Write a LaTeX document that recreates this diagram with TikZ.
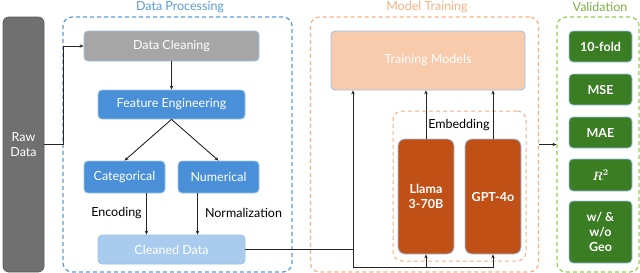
\documentclass[tikz,border=0pt]{standalone}
\usepackage{fontspec}
\setmainfont{Lato}
\usetikzlibrary{arrows.meta,positioning}
\definecolor{rawgray}{RGB}{112,112,112}
\definecolor{cleangray}{RGB}{166,166,166}
\definecolor{featblue}{RGB}{74,144,217}
\definecolor{paleblue}{RGB}{169,204,238}
\definecolor{edgeblue}{RGB}{157,195,230}
\definecolor{peach}{RGB}{248,203,173}
\definecolor{rust}{RGB}{192,80,21}
\definecolor{leaf}{RGB}{58,125,34}
\definecolor{dpblue}{RGB}{91,155,213}
\definecolor{mtorange}{RGB}{244,177,131}
\definecolor{vgreen}{RGB}{146,208,80}
\tikzset{
  box/.style ={rectangle,draw=edgeblue,line width=0.8pt,rounded corners=4pt,align=center,
               text=white,inner sep=1pt,font=\fontsize{12.5}{15}\selectfont},
  grp/.style ={rectangle,line width=1.2pt,dash pattern=on 4pt off 3pt,rounded corners=9pt,inner sep=0pt},
  ttl/.style ={font=\fontsize{12.5}{15}\selectfont},
  lbl/.style ={font=\fontsize{12.5}{15}\selectfont},
  vb/.style  ={box,fill=leaf,minimum width=63pt,font=\fontsize{12.5}{15}\selectfont\bfseries\boldmath},
  ar/.style  ={-{Stealth[length=4pt,width=3.5pt]},line width=0.9pt,black!85},
  ln/.style  ={line width=0.9pt,black!85},
}
\begin{document}
\begin{tikzpicture}[x=1pt,y=-1pt]
  \useasboundingbox (0,0) rectangle (640,273);
  % group frames
  \node[grp,draw=dpblue,minimum width=229pt,minimum height=255pt]  (dp)  at (177.5,144.5) {};
  \node[grp,draw=mtorange,minimum width=228pt,minimum height=255pt] (mt) at (424.5,144.5) {};
  \node[grp,draw=vgreen,minimum width=82pt,minimum height=255pt]  (val) at (598,144.5) {};
  \node[ttl,text=dpblue]   (dpt)  at (180,7)  {Data Processing};
  \node[ttl,text=mtorange] (mtt)  at (427,7)  {Model Training};
  \node[ttl,text=vgreen!85!black] (valt) at (600,7) {Validation};
  % raw data
  \node[box,draw=rawgray!80!black,fill=rawgray,rounded corners=6pt,minimum width=41pt,minimum height=255pt] (raw) at (23.5,144.5) {Raw\\Data};
  % data processing
  \node[box,fill=cleangray,minimum width=175pt,minimum height=30pt] (clean) at (171.5,46) {Data Cleaning};
  \node[box,fill=featblue,minimum width=147pt,minimum height=29pt]  (feat)  at (171.5,104.5) {Feature Engineering};
  \node[box,fill=featblue,minimum width=81pt,minimum height=32pt]   (cat)   at (124.5,177) {Categorical};
  \node[box,fill=featblue,minimum width=81pt,minimum height=32pt]   (num)   at (218.5,177) {Numerical};
  \node[box,fill=paleblue,minimum width=147pt,minimum height=29pt]  (cleaned) at (171.5,249.5) {Cleaned Data};
  \node[lbl] (enc)  at (116.5,213) {Encoding};
  \node[lbl] (norm) at (243.5,213) {Normalization};
  % model training
  \node[box,fill=peach,minimum width=194pt,minimum height=59pt] (train) at (428,60.5) {Training Models};
  \node[grp,draw=mtorange,line width=1pt,minimum width=133pt,minimum height=150pt] (emb) at (459.5,186) {};
  \node[lbl] (embt) at (459,125) {Embedding};
  \node[box,fill=rust,rounded corners=7pt,minimum width=56pt,minimum height=115pt,font=\fontsize{12.5}{15}\selectfont\bfseries] (llama) at (426,196.5) {Llama\\3-70B};
  \node[box,fill=rust,rounded corners=7pt,minimum width=56pt,minimum height=115pt,font=\fontsize{12.5}{15}\selectfont\bfseries] (gpt)   at (493,196.5) {GPT-4o};
  % validation
  \node[vb,minimum height=31pt] (fold) at (600.5,46.5)  {10-fold};
  \node[vb,minimum height=31pt] (mse)  at (600.5,89.5)  {MSE};
  \node[vb,minimum height=31pt] (mae)  at (600.5,132.5) {MAE};
  \node[vb,minimum height=32pt] (rsq)  at (600.5,175)   {$R^2$};
  \node[vb,minimum height=62pt] (geo)  at (600.5,232)   {w/ \&\\w/o\\Geo};
  % connectors
  \draw[ar] (raw.east) -- ++(19,0) |- (clean.west);
  \draw[ar] (clean.south) -- (feat.north);
  \draw[ar] (feat.south) -- (cat.north);
  \draw[ar] (feat.south) -- (num.north);
  \draw[ar] ([xshift=-25pt]cleaned.north |- cat.south) -- ([xshift=-25pt]cleaned.north);
  \draw[ar] ([xshift=26pt]cleaned.north |- num.south) -- ([xshift=26pt]cleaned.north);
  \coordinate (j) at (353,267);
  \draw[ln] (cleaned.east) -- (cleaned.east -| j);
  \draw[ar] (j) -- (j |- train.south);
  \draw[ar] (j) -| (llama.south);
  \draw[ar] (j) -| (gpt.south);
  \draw[ar] (llama.north) -- (llama.north |- train.south);
  \draw[ar] (gpt.north) -- (gpt.north |- train.south);
  \draw[ar] (mt.east) -- (val.west);
\end{tikzpicture}
\end{document}
